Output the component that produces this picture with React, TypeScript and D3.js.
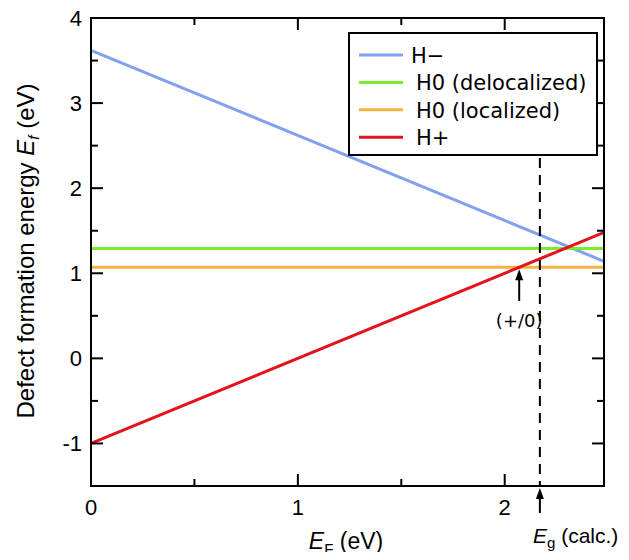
import React, { useRef, useEffect } from 'react';
import * as d3 from 'd3';

// Fermi level range (eV)
const xDomain = [0, 2.48];
const yDomain = [-1.5, 4];
const xMajor = [0, 1, 2];
const xMinor = [0.5, 1.5];
const yMajor = [-1, 0, 1, 2, 3, 4];
const yMinor = [-0.5, 0.5, 1.5, 2.5, 3.5];

// formation energies: value at EF = 0 and slope (charge)
const seriesNames = ['H\u2212', 'H0 (delocalized)', 'H0 (localized)', 'H+'];
const seriesColors = ['#82a0f0', '#7ceb2a', '#f7b246', '#e3121b'];
const seriesIntercept = [3.62, 1.29, 1.07, -1.0];
const seriesSlope = [-1, 0, 0, 1];

const gapCalc = 2.17;
const transitionLevel = 2.07;

const W = 629;
const H = 560;

const App = () => {
    const ref = useRef<SVGSVGElement>(null);

    useEffect(() => {
        const svg = d3.select(ref.current);
        svg.selectAll('*').remove();

        const margin = { top: 18, right: 25, bottom: 74, left: 91 };
        const x = d3.scaleLinear().domain(xDomain).range([margin.left, W - margin.right]);
        const y = d3.scaleLinear().domain(yDomain).range([H - margin.bottom, margin.top]);
        const font = 'Liberation Sans, Arial, sans-serif';
        const font2 = 'DejaVu Sans, Verdana, sans-serif';

        const plot = svg.append('g');

        // lines
        seriesNames.forEach((name, i) => {
            const pts = xDomain.map(v => [v, seriesIntercept[i] + seriesSlope[i] * v] as [number, number]);
            plot.append('path')
                .attr('d', d3.line().x(d => x(d[0])).y(d => y(d[1]))(pts))
                .attr('stroke', seriesColors[i])
                .attr('stroke-width', 3)
                .attr('fill', 'none');
        });

        // frame
        const x0 = x(xDomain[0]), x1 = x(xDomain[1]);
        const y0 = y(yDomain[0]), y1 = y(yDomain[1]);
        svg.append('rect')
            .attr('x', x0).attr('y', y1)
            .attr('width', x1 - x0).attr('height', y0 - y1)
            .attr('fill', 'none').attr('stroke', '#000').attr('stroke-width', 2);

        // inward ticks on all sides
        const tick = (len: number, vals: number[], axis: 'x' | 'y') => {
            vals.forEach(v => {
                if (axis === 'x') {
                    svg.append('line').attr('x1', x(v)).attr('x2', x(v)).attr('y1', y0).attr('y2', y0 - len).attr('stroke', '#000').attr('stroke-width', 2);
                    svg.append('line').attr('x1', x(v)).attr('x2', x(v)).attr('y1', y1).attr('y2', y1 + len).attr('stroke', '#000').attr('stroke-width', 2);
                } else {
                    svg.append('line').attr('y1', y(v)).attr('y2', y(v)).attr('x1', x0).attr('x2', x0 + len).attr('stroke', '#000').attr('stroke-width', 2);
                    svg.append('line').attr('y1', y(v)).attr('y2', y(v)).attr('x1', x1).attr('x2', x1 - len).attr('stroke', '#000').attr('stroke-width', 2);
                }
            });
        };
        tick(12, xMajor, 'x');
        tick(7, xMinor, 'x');
        tick(12, yMajor, 'y');
        tick(7, yMinor, 'y');

        // tick labels
        svg.selectAll('.xl').data(xMajor).enter().append('text')
            .attr('x', d => x(d)).attr('y', y0 + 29)
            .attr('text-anchor', 'middle')
            .style('font-family', font).style('font-size', '22px')
            .text(d => d);
        svg.selectAll('.yl').data(yMajor).enter().append('text')
            .attr('x', x0 - 9).attr('y', d => y(d) + 8)
            .attr('text-anchor', 'end')
            .style('font-family', font).style('font-size', '22px')
            .text(d => d);

        // axis titles
        const xt = svg.append('text')
            .attr('x', 346).attr('y', 549)
            .attr('text-anchor', 'middle')
            .style('font-family', font).style('font-size', '23px');
        xt.append('tspan').style('font-style', 'italic').text('E');
        xt.append('tspan').attr('dy', 5).style('font-size', '15px').text('F');
        xt.append('tspan').attr('dy', -5).text(' (eV)');

        const yt = svg.append('text')
            .attr('transform', `translate(34, 251) rotate(-90)`)
            .attr('text-anchor', 'middle')
            .style('font-family', font).style('font-size', '24px');
        yt.append('tspan').text('Defect formation energy ');
        yt.append('tspan').style('font-style', 'italic').text('E');
        yt.append('tspan').attr('dy', 5).style('font-style', 'italic').style('font-size', '15px').text('f');
        yt.append('tspan').attr('dy', -5).text(' (eV)');

        // legend
        const lg = svg.append('g');
        lg.append('rect')
            .attr('x', 349).attr('y', 33).attr('width', 248).attr('height', 122)
            .attr('fill', '#fff').attr('stroke', '#000').attr('stroke-width', 2);
        seriesNames.forEach((name, i) => {
            const ly = 55 + i * 27.4;
            lg.append('line')
                .attr('x1', 359).attr('x2', 403).attr('y1', ly).attr('y2', ly)
                .attr('stroke', seriesColors[i]).attr('stroke-width', 3);
            lg.append('text')
                .attr('x', i === 0 ? 411 : 416).attr('y', ly + 8)
                .style('font-family', font2).style('font-size', '21px')
                .text(name);
        });

        // calculated gap
        svg.append('line')
            .attr('x1', x(gapCalc)).attr('x2', x(gapCalc))
            .attr('y1', 158).attr('y2', y0)
            .attr('stroke', '#000').attr('stroke-width', 2)
            .attr('stroke-dasharray', '10,7');

        const arrow = (ax: number, yTip: number, yTail: number) => {
            svg.append('line').attr('x1', ax).attr('x2', ax).attr('y1', yTip + 8).attr('y2', yTail)
                .attr('stroke', '#000').attr('stroke-width', 2);
            svg.append('path')
                .attr('d', `M${ax},${yTip} L${ax - 4},${yTip + 11} L${ax + 4},${yTip + 11} Z`)
                .attr('fill', '#000');
        };

        arrow(x(transitionLevel), y(1.07) + 2, 301);
        svg.append('text')
            .attr('x', x(transitionLevel)).attr('y', 327)
            .attr('text-anchor', 'middle')
            .style('font-family', font2).style('font-size', '18px')
            .text('(+/0)');

        arrow(x(gapCalc), y0 + 2, 513);
        const eg = svg.append('text')
            .attr('x', 533).attr('y', 543)
            .style('font-family', font).style('font-size', '21px');
        eg.append('tspan').style('font-style', 'italic').text('E');
        eg.append('tspan').attr('dy', 5).style('font-size', '15px').text('g');
        eg.append('tspan').attr('dy', -5).text(' (calc.)');
    }, []);

    return (
        <div style={{ width: W, height: H, margin: -8 }}>
            <svg ref={ref} width={W} height={H} style={{ display: 'block', background: '#fff' }}></svg>
        </div>
    );
};

export default App;
